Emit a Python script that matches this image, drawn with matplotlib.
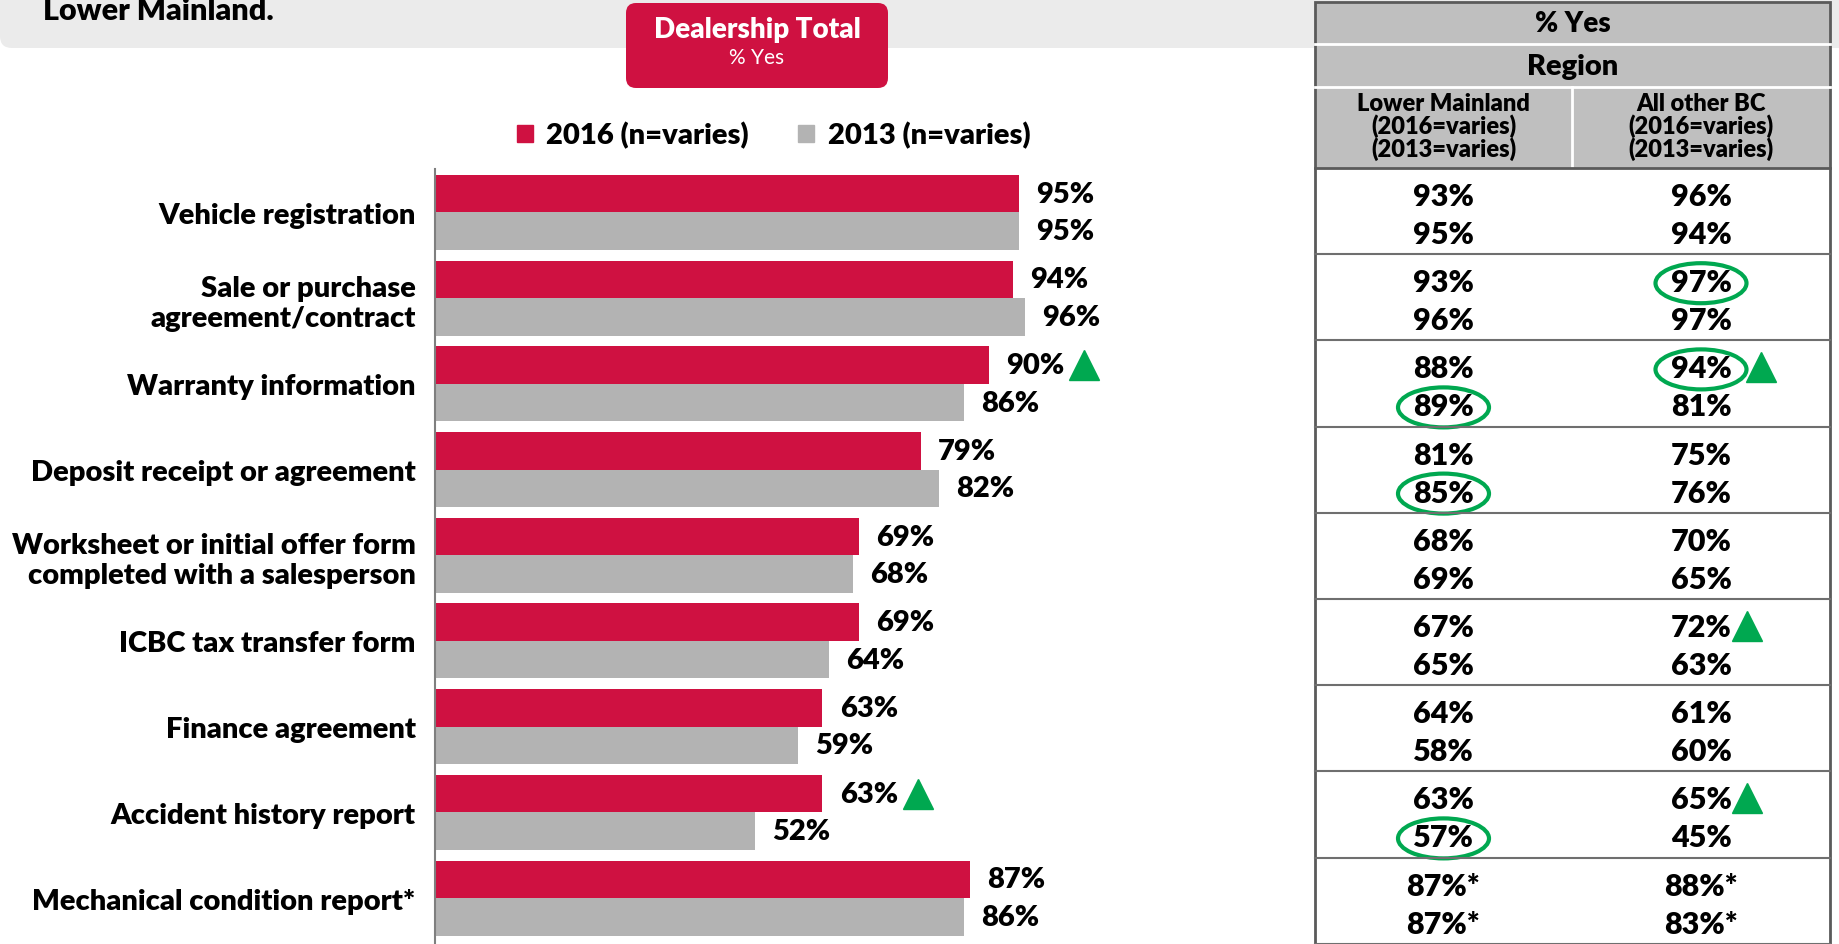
import matplotlib.pyplot as plt
from matplotlib.patches import FancyBboxPatch, Rectangle, Ellipse, Patch

plt.rcParams['font.family'] = ['Lato', 'DejaVu Sans']

# données du graphique (Dealership Total, % Yes)
categories = ["Vehicle registration",
              "Sale or purchase\nagreement/contract",
              "Warranty information",
              "Deposit receipt or agreement",
              "Worksheet or initial offer form\ncompleted with a salesperson",
              "ICBC tax transfer form",
              "Finance agreement",
              "Accident history report",
              "Mechanical condition report*"]
total_2016 = [95, 94, 90, 79, 69, 69, 63, 63, 87]
total_2013 = [95, 96, 86, 82, 68, 64, 59, 52, 86]
total_up = [2, 7]  # lignes avec triangle vert

# tableau par région
lm_2016 = [93, 93, 88, 81, 68, 67, 64, 63, 87]
lm_2013 = [95, 96, 89, 85, 69, 65, 58, 57, 87]
bc_2016 = [96, 97, 94, 75, 70, 72, 61, 65, 88]
bc_2013 = [94, 97, 81, 76, 65, 63, 60, 45, 83]
star_rows = [8]
# (ligne, colonne, 0=2016 / 1=2013)
circled = [(1, 1, 0), (2, 1, 0), (2, 0, 1), (3, 0, 1), (7, 0, 1)]
arrows = [(2, 1, 0), (5, 1, 0), (7, 1, 0)]

RED = '#cf1141'
GREY = '#b3b3b3'
GREEN = '#00a850'
BOLD = 'heavy'
W, H = 1839, 945

fig = plt.figure(figsize=(W / 100, H / 100), dpi=100)

# calque de fond en pixels
bg = fig.add_axes([0, 0, 1, 1])
bg.set_xlim(0, W)
bg.set_ylim(H, 0)
bg.axis('off')

bg.add_patch(FancyBboxPatch((0, -40), 1900, 89, boxstyle='round,pad=0,rounding_size=12',
                            fc='#ebebeb', ec='none'))
bg.text(43, 11, "Lower Mainland.", fontsize=22, fontweight=BOLD, va='center')

bg.add_patch(FancyBboxPatch((626, 4), 262, 85, boxstyle='round,pad=0,rounding_size=10',
                            fc=RED, ec='none'))
bg.text(757, 30, "Dealership Total", fontsize=20, fontweight=BOLD, color='white',
        ha='center', va='center')
bg.text(757, 58, "% Yes", fontsize=15, color='white', ha='center', va='center')

# graphique à barres
ax = fig.add_axes([435 / W, 0, 615 / W, 775 / H])
idx = list(range(len(categories)))
h = 0.4375
ax.barh([i - h / 2 for i in idx], total_2016, height=h, color=RED, label="2016 (n=varies)")
ax.barh([i + h / 2 for i in idx], total_2013, height=h, color=GREY, label="2013 (n=varies)")
ax.set_xlim(0, 100)
ax.set_ylim(8.536, -0.5075)

for i in idx:
    ax.text(total_2016[i] + 2.8, i - h / 2, f"{total_2016[i]}%", fontsize=21, fontweight=BOLD,
            va='center', ha='left', clip_on=False)
    ax.text(total_2013[i] + 2.8, i + h / 2, f"{total_2013[i]}%", fontsize=21, fontweight=BOLD,
            va='center', ha='left', clip_on=False)
for i in total_up:
    ax.plot(total_2016[i] + 15.5, i - h / 2, marker='^', ms=21, color=GREEN, clip_on=False)

ax.set_yticks(idx, categories, fontsize=21, fontweight=BOLD)
ax.tick_params(axis='y', length=0, pad=14)
ax.set_xticks([])
for s in ['top', 'right', 'bottom']:
    ax.spines[s].set_visible(False)
ax.spines['left'].set_color('#7f7f7f')
ax.spines['left'].set_linewidth(1.5)
ax.patch.set_alpha(0)

fig.legend(handles=[Patch(color=RED), Patch(color=GREY)],
           labels=["2016 (n=varies)", "2013 (n=varies)"],
           loc='center left', bbox_to_anchor=(517 / W, 1 - 136 / H), ncol=2, frameon=False,
           borderpad=0, borderaxespad=0, handlelength=0.55, handleheight=0.55,
           handletextpad=0.45, columnspacing=1.7, prop={'size': 21, 'weight': BOLD})

# tableau par région
x0, x1, xm = 1315, 1830, 1572
cols = [(x0 + xm) / 2, (xm + x1) / 2]
body_top, row_h = 169, 86.2

bg.add_patch(Rectangle((x0, 3), x1 - x0, body_top - 3, fc='#bfbfbf', ec='none'))
bg.plot([x0, x1], [44.5, 44.5], color='white', lw=2)
bg.plot([x0, x1], [88, 88], color='white', lw=2)
bg.plot([xm, xm], [88, body_top], color='white', lw=2)
bg.text((x0 + x1) / 2, 24, "% Yes", fontsize=20, fontweight=BOLD, ha='center', va='center')
bg.text((x0 + x1) / 2, 67, "Region", fontsize=21, fontweight=BOLD, ha='center', va='center')
bg.text(cols[0], 127, "Lower Mainland\n(2016=varies)\n(2013=varies)", fontsize=17,
        fontweight=BOLD, ha='center', va='center', linespacing=0.95)
bg.text(cols[1], 127, "All other BC\n(2016=varies)\n(2013=varies)", fontsize=17,
        fontweight=BOLD, ha='center', va='center', linespacing=0.95)

for k in range(1, 10):
    bg.plot([x0, x1], [body_top + k * row_h] * 2, color='#6f6f6f', lw=1.5)
bg.plot([x0, x1], [body_top, body_top], color='#5a5a5a', lw=2)
bg.add_patch(Rectangle((x0, 3), x1 - x0, H - 3, fc='none', ec='#5a5a5a', lw=2))

table = [[lm_2016, lm_2013], [bc_2016, bc_2013]]
for r in range(len(categories)):
    for c in range(2):
        for line in range(2):
            v = table[c][line][r]
            s = f"{v}%*" if r in star_rows else f"{v}%"
            y = body_top + r * row_h + (28 if line == 0 else 66)
            bg.text(cols[c], y, s, fontsize=22, fontweight=BOLD, ha='center', va='center')

for r, c, line in circled:
    y = body_top + r * row_h + (28 if line == 0 else 66)
    bg.add_patch(Ellipse((cols[c], y + 1), 91, 40, fc='none', ec=GREEN, lw=3))
for r, c, line in arrows:
    y = body_top + r * row_h + (28 if line == 0 else 66)
    dx = 60 if (r, c, line) in circled else 46
    bg.plot(cols[c] + dx, y - 1, marker='^', ms=21, color=GREEN)

fig.savefig("out.png", dpi=100)
